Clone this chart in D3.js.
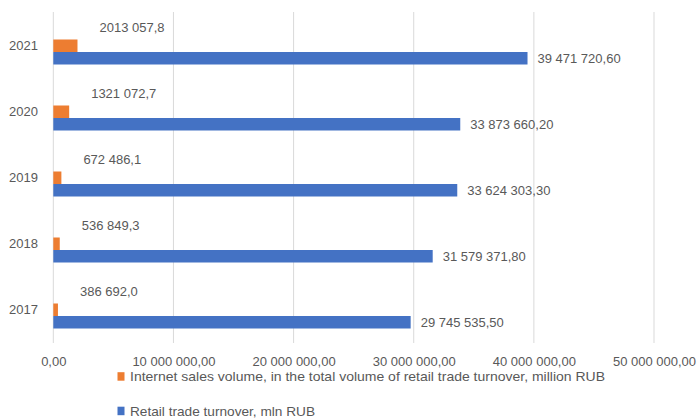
<!DOCTYPE html>
<html><head><meta charset="utf-8">
<script src="https://cdn.jsdelivr.net/npm/d3@7"></script>
<style>body{margin:0;background:#fff;overflow:hidden}</style>
</head><body>
<svg id="c" width="697" height="419"></svg>
<script>
const years = ["2017","2018","2019","2020","2021"];
const internetSales = [386692.0, 536849.3, 672486.1, 1321072.7, 2013057.8];
const retailTurnover = [29745535.50, 31579371.80, 33624303.30, 33873660.20, 39471720.60];
const xTicks = [0, 10000000, 20000000, 30000000, 40000000, 50000000];
const seriesNames = ["Internet sales volume, in the total volume of retail trade turnover, million RUB", "Retail trade turnover, mln RUB"];
const colors = ["#ED7D31", "#4472C4"];

const svg = d3.select("#c");
const font = "'Liberation Sans', Arial, sans-serif";
const textColor = "#595959";

const x = d3.scaleLinear().domain([0, 50000000]).range([53.3, 654]);
const y = d3.scaleBand().domain(years.slice().reverse()).range([19, 349]);
const barH = 12.5;

const locAxis = d3.formatLocale({decimal: ",", thousands: " ", grouping: [3], currency: ["", ""]});
const locInt = d3.formatLocale({decimal: ",", thousands: " ", grouping: [3, 9], currency: ["", ""]});
const fmtAxis = locAxis.format(",.2f");
const fmtInt = locInt.format(",.1f");

// gridlines
svg.append("g").selectAll("line").data(xTicks).join("line")
  .attr("x1", d => x(d)).attr("x2", d => x(d))
  .attr("y1", 12).attr("y2", 343)
  .attr("stroke", "#D9D9D9").attr("stroke-width", 1);

// x axis labels
const xAxis = d3.axisBottom(x).tickValues(xTicks).tickFormat(fmtAxis).tickSize(0).tickPadding(0);
const gx = svg.append("g").attr("transform", "translate(0,357)").call(xAxis);
gx.select(".domain").remove();
gx.selectAll("text").attr("font-family", font).attr("font-size", 13).attr("fill", textColor);

// year labels
svg.append("g").selectAll("text").data(years).join("text")
  .attr("x", 38).attr("y", d => y(d) + y.bandwidth() / 2 - 7)
  .attr("text-anchor", "end").attr("dominant-baseline", "central")
  .attr("font-family", font).attr("font-size", 13).attr("fill", textColor)
  .text(d => d);

const cy = d => y(d) + y.bandwidth() / 2;

// internet bars
svg.append("g").selectAll("rect").data(years).join("rect")
  .attr("x", x(0)).attr("y", d => cy(d) - barH)
  .attr("width", (d, i) => x(internetSales[i]) - x(0)).attr("height", barH)
  .attr("fill", colors[0]);

// retail bars
svg.append("g").selectAll("rect").data(years).join("rect")
  .attr("x", x(0)).attr("y", d => cy(d))
  .attr("width", (d, i) => x(retailTurnover[i]) - x(0)).attr("height", barH)
  .attr("fill", colors[1]);

// internet labels
svg.append("g").selectAll("text").data(years).join("text")
  .attr("x", (d, i) => x(internetSales[i]) + 22)
  .attr("y", d => cy(d) - barH / 2 - 18)
  .attr("dominant-baseline", "central")
  .attr("font-family", font).attr("font-size", 13).attr("fill", textColor)
  .text((d, i) => fmtInt(internetSales[i]));

// retail labels
svg.append("g").selectAll("text").data(years).join("text")
  .attr("x", (d, i) => x(retailTurnover[i]) + 10)
  .attr("y", d => cy(d) + barH / 2)
  .attr("dominant-baseline", "central")
  .attr("font-family", font).attr("font-size", 13).attr("fill", textColor)
  .text((d, i) => fmtAxis(retailTurnover[i]));

// legend
const legY = [376.5, 411];
const legW = [475, 185];
const leg = svg.append("g").selectAll("g").data(seriesNames).join("g");
leg.append("rect").attr("x", 117.5).attr("y", (d, i) => legY[i] - 4.3)
  .attr("width", 7).attr("height", 8.5).attr("fill", (d, i) => colors[i]);
leg.append("text").attr("x", 130).attr("y", (d, i) => legY[i])
  .attr("dominant-baseline", "central")
  .attr("font-family", font).attr("font-size", 13).attr("fill", textColor)
  .attr("textLength", (d, i) => legW[i]).attr("lengthAdjust", "spacingAndGlyphs")
  .text(d => d);
</script>
</body></html>
